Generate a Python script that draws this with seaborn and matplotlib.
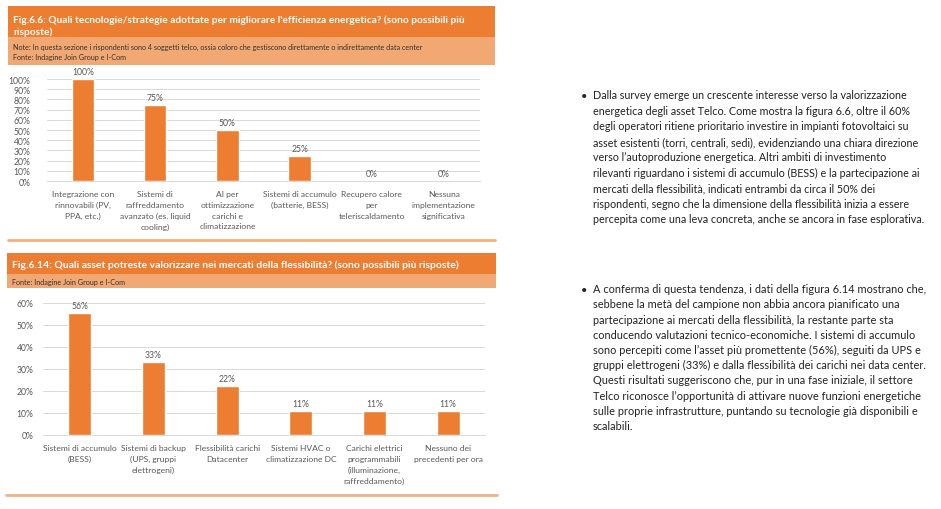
import matplotlib
matplotlib.use("Agg")
import matplotlib.pyplot as plt
import seaborn as sns
import pandas as pd
from matplotlib.patches import Rectangle
from matplotlib.lines import Line2D
from matplotlib.ticker import PercentFormatter, MultipleLocator

# ---------------- data ----------------
cats1 = ["Integrazione con\nrinnovabili (PV,\nPPA, etc.)",
         "Sistemi di\nraffreddamento\navanzato (es. liquid\ncooling)",
         "AI per\nottimizzazione\ncarichi e\nclimatizzazione",
         "Sistemi di accumulo\n(batterie, BESS)",
         "Recupero calore\nper\nteleriscaldamento",
         "Nessuna\nimplementazione\nsignificativa"]
vals1 = [100, 75, 50, 25, 0, 0]

cats2 = ["Sistemi di accumulo\n(BESS)",
         "Sistemi di backup\n(UPS, gruppi\nelettrogeni)",
         "Flessibilità carichi\nDatacenter",
         "Sistemi HVAC o\nclimatizzazione DC",
         "Carichi elettrici\nprogrammabili\n(illuminazione,\nraffreddamento)",
         "Nessuno dei\nprecedenti per ora"]
vals2 = [55.6, 33.3, 22.2, 11.1, 11.1, 11.1]

title1 = ("Fig.6.6: Quali tecnologie/strategie adottate per migliorare l'efficienza energetica? (sono possibili più\n"
          "risposte)")
note1 = ("Note: In questa sezione i rispondenti sono 4 soggetti telco, ossia coloro che gestiscono direttamente o indirettamente data center\n"
         "Fonte: Indagine Join Group e I-Com")
title2 = "Fig.6.14: Quali asset potreste valorizzare nei mercati della flessibilità? (sono possibili più risposte)"
note2 = "Fonte: Indagine Join Group e I-Com"

para1 = ("Dalla survey emerge un crescente interesse verso la valorizzazione\n"
         "energetica degli asset Telco. Come mostra la figura 6.6, oltre il 60%\n"
         "degli operatori ritiene prioritario investire in impianti fotovoltaici su\n"
         "asset esistenti (torri, centrali, sedi), evidenziando una chiara direzione\n"
         "verso l’autoproduzione energetica. Altri ambiti di investimento\n"
         "rilevanti riguardano i sistemi di accumulo (BESS) e la partecipazione ai\n"
         "mercati della flessibilità, indicati entrambi da circa il 50% dei\n"
         "rispondenti, segno che la dimensione della flessibilità inizia a essere\n"
         "percepita come una leva concreta, anche se ancora in fase esplorativa.")
para2 = ("A conferma di questa tendenza, i dati della figura 6.14 mostrano che,\n"
         "sebbene la metà del campione non abbia ancora pianificato una\n"
         "partecipazione ai mercati della flessibilità, la restante parte sta\n"
         "conducendo valutazioni tecnico-economiche. I sistemi di accumulo\n"
         "sono percepiti come l’asset più promettente (56%), seguiti da UPS e\n"
         "gruppi elettrogeni (33%) e dalla flessibilità dei carichi nei data center.\n"
         "Questi risultati suggeriscono che, pur in una fase iniziale, il settore\n"
         "Telco riconosce l’opportunità di attivare nuove funzioni energetiche\n"
         "sulle proprie infrastrutture, puntando su tecnologie già disponibili e\n"
         "scalabili.")

# ---------------- style ----------------
sns.set_theme(style="white")
plt.rcParams['font.family'] = ['Lato', 'DejaVu Sans']

ORANGE = "#ED7D31"
LIGHT = "#F2A873"
LINE = "#F4B183"
GRID = "#D9D9D9"
TXT = "#595959"

W, H = 941, 510
fig = plt.figure(figsize=(W / 100, H / 100), dpi=100)
fig.patch.set_facecolor("white")
renderer = fig.canvas.get_renderer()


def fx(x):
    return x / W


def fy(y):
    return 1 - y / H


def fit(t, target_px):
    w = t.get_window_extent(renderer).width
    t.set_fontsize(t.get_fontsize() * target_px / w)


def rect(x0, y0, x1, y1, color):
    fig.add_artist(Rectangle((fx(x0), fy(y1)), (x1 - x0) / W, (y1 - y0) / H,
                             transform=fig.transFigure, facecolor=color,
                             edgecolor="none", zorder=0))


def hline(x0, x1, y, color, lw=2):
    fig.add_artist(Line2D([fx(x0), fx(x1)], [fy(y), fy(y)], transform=fig.transFigure,
                          color=color, lw=lw))


def draw_chart(ax, cats, vals, ymax, step, ypad):
    df = pd.DataFrame({"cat": cats, "val": vals})
    sns.barplot(data=df, x="cat", y="val", color=ORANGE, width=0.31, ax=ax,
                saturation=1)
    ax.set_ylim(0, ymax)
    ax.set_xlim(-0.5, len(cats) - 0.5)
    ax.yaxis.set_major_locator(MultipleLocator(step))
    ax.yaxis.set_major_formatter(PercentFormatter(100, decimals=0))
    ax.grid(axis="y", color=GRID, lw=0.7)
    ax.set_axisbelow(True)
    for s in ["top", "right", "left"]:
        ax.spines[s].set_visible(False)
    ax.spines["bottom"].set_color(GRID)
    ax.spines["bottom"].set_linewidth(0.7)
    ax.tick_params(axis="y", length=0, labelsize=6.2, labelcolor=TXT, pad=ypad)
    ax.tick_params(axis="x", length=0, labelbottom=False)
    # multi-line category labels under each bar
    for i, c in enumerate(cats):
        ax.annotate(c, xy=(i, 0), xycoords=ax.get_xaxis_transform(),
                    xytext=(0, -6.8), textcoords="offset points", ha="center",
                    va="top", fontsize=6.1, color=TXT, linespacing=1.6,
                    annotation_clip=False)
    ax.set_xlabel("")
    ax.set_ylabel("")
    ax.bar_label(ax.containers[0], labels=[f"{round(v)}%" for v in vals],
                 padding=2, fontsize=6.2, color=TXT)


# ---------- chart 1 ----------
rect(8, 7, 495, 38, ORANGE)
rect(8, 38, 495, 66, LIGHT)
t = fig.text(fx(13), fy(26), title1, fontsize=8, fontweight="bold", color="white",
             va="center", ha="left", linespacing=1.3)
fit(t, 453)
t = fig.text(fx(13), fy(52.5), note1, fontsize=5, color="#333333", va="center",
             ha="left", linespacing=1.6)
fit(t, 417)

ax1 = fig.add_axes([fx(47), fy(182), (480 - 47) / W, (182 - 80) / H])
draw_chart(ax1, cats1, vals1, 100, 10, 12)
hline(8, 495, 241, LINE)

# ---------- chart 2 ----------
rect(7, 254, 496, 275, ORANGE)
rect(7, 275, 496, 289, LIGHT)
t = fig.text(fx(12), fy(265), title2, fontsize=8, fontweight="bold", color="white",
             va="center", ha="left")
fit(t, 450)
fig.text(fx(12), fy(282), note2, fontsize=5.2, color="#333333", va="center", ha="left")

ax2 = fig.add_axes([fx(43), fy(436), (485 - 43) / W, (436 - 304) / H])
draw_chart(ax2, cats2, vals2, 60, 10, 7)
hline(6, 497, 496, LINE)

# ---------- right text ----------
for yb, para, width in [(97, para1, 332), (291, para2, 333)]:
    fig.text(fx(581), fy(yb), "•", fontsize=8, color="#222222", va="center", ha="left")
    t = fig.text(fx(593), fy(yb), para, fontsize=8, color="#222222", va="top",
                 ha="left", linespacing=1.4)
    fit(t, width)
    fs_px = t.get_fontsize() * 100 / 72
    t.set_linespacing(16.1 / fs_px)
    t.set_y(fy(yb - 0.62 * fs_px))

fig.savefig("out.png", dpi=100, facecolor="white")
